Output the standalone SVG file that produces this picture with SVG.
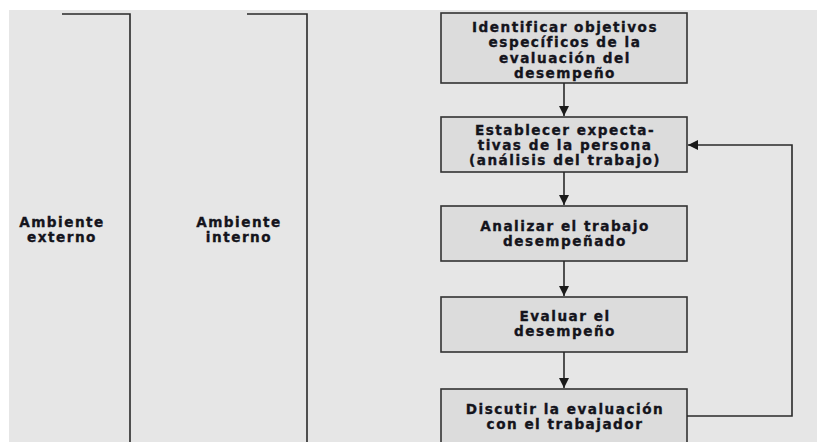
<svg xmlns="http://www.w3.org/2000/svg" width="817" height="442" viewBox="0 0 817 442">
  <style>
    .bg { fill: #e6e6e6; }
    .box { fill: #dcdcdc; stroke: #333333; stroke-width: 1.6; }
    .edge { fill: none; stroke: #2a2a2a; stroke-width: 1.6; }
    .lbl { font-family: "DejaVu Sans", "Liberation Sans", sans-serif; font-weight: bold; font-size: 13.6px; fill: #14141c; stroke: #14141c; stroke-width: 0.35px; text-anchor: middle; letter-spacing: 1.5px; }
  </style>
  <defs>
    <marker id="arrow" viewBox="0 0 10 10" refX="10" refY="5" markerWidth="10" markerHeight="10" markerUnits="userSpaceOnUse" orient="auto">
      <path d="M0,0 L10,5 L0,10 z" fill="#1a1a1a"/>
    </marker>
  </defs>

  <rect x="0" y="0" width="817" height="442" fill="#ffffff"/>
  <rect class="bg" x="9" y="10" width="808" height="432"/>

  <!-- environment brackets -->
  <g id="ambiente-externo">
    <path class="edge" d="M62,14 H130 V442"/>
    <text class="lbl" x="62" y="227">Ambiente</text>
    <text class="lbl" x="62" y="242">externo</text>
  </g>
  <g id="ambiente-interno">
    <path class="edge" d="M247,14 H307 V442"/>
    <text class="lbl" x="239" y="227">Ambiente</text>
    <text class="lbl" x="239" y="242">interno</text>
  </g>

  <!-- process steps -->
  <g id="identificar">
    <rect class="box" x="441" y="13" width="246" height="70"/>
    <text class="lbl" x="565" y="32">Identificar objetivos</text>
    <text class="lbl" x="565" y="47">específicos de la</text>
    <text class="lbl" x="565" y="63">evaluación del</text>
    <text class="lbl" x="565" y="78">desempeño</text>
  </g>
  <g id="establecer">
    <rect class="box" x="441" y="117" width="246" height="55"/>
    <text class="lbl" x="565" y="135">Establecer expecta-</text>
    <text class="lbl" x="565" y="150">tivas de la persona</text>
    <text class="lbl" x="565" y="165">(análisis del trabajo)</text>
  </g>
  <g id="analizar">
    <rect class="box" x="441" y="206" width="246" height="55"/>
    <text class="lbl" x="565" y="231">Analizar el trabajo</text>
    <text class="lbl" x="565" y="246">desempeñado</text>
  </g>
  <g id="evaluar">
    <rect class="box" x="441" y="297" width="246" height="55"/>
    <text class="lbl" x="565" y="321">Evaluar el</text>
    <text class="lbl" x="565" y="336">desempeño</text>
  </g>
  <g id="discutir">
    <rect class="box" x="441" y="389" width="246" height="60"/>
    <text class="lbl" x="565" y="414">Discutir la evaluación</text>
    <text class="lbl" x="565" y="429">con el trabajador</text>
  </g>

  <!-- connectors -->
  <g id="connectors">
    <line class="edge" x1="564" y1="83" x2="564" y2="116" marker-end="url(#arrow)"/>
    <line class="edge" x1="564" y1="172" x2="564" y2="205" marker-end="url(#arrow)"/>
    <line class="edge" x1="564" y1="261" x2="564" y2="296" marker-end="url(#arrow)"/>
    <line class="edge" x1="564" y1="352" x2="564" y2="388" marker-end="url(#arrow)"/>
    <path class="edge" d="M687,416 H792 V145 H688" marker-end="url(#arrow)"/>
  </g>
</svg>
